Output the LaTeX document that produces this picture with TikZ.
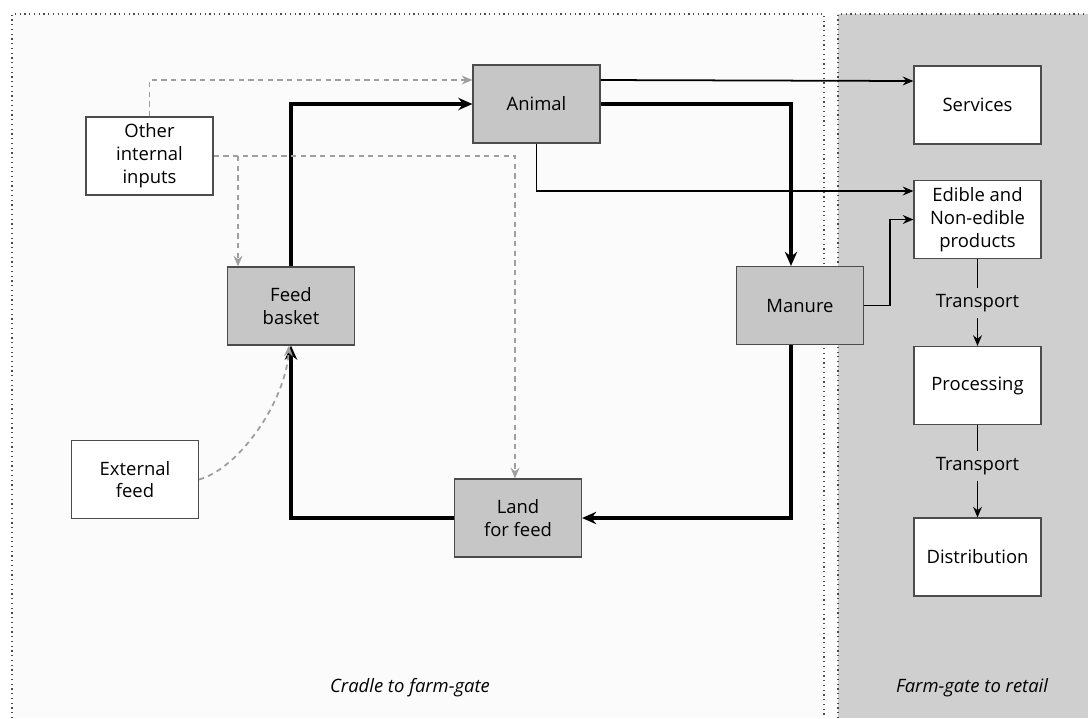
\documentclass[tikz,border=0pt]{standalone}
\usepackage{fontspec}
\setmainfont{Open Sans}
\usetikzlibrary{arrows.meta}

\begin{document}
\begin{tikzpicture}[x=0.02cm, y=-0.02cm,
        every node/.style={font=\fontsize{10.5}{13}\selectfont},
        farmbox/.style={draw=black!70, line width=0.7pt, fill=white, minimum width=2.54cm, minimum height=1.56cm, align=center, inner sep=1pt},
        stagebox/.style={farmbox, fill=gray!45},
        gatelabel/.style={font=\fontsize{10.5}{13}\selectfont\itshape},
        flow/.style={line width=2.2pt, -{Stealth[length=8pt, width=7pt]}},
        link/.style={line width=1pt, -{Stealth[length=6pt, width=5pt]}},
        supply/.style={gray!75, line width=1pt, dash pattern=on 3pt off 2.5pt, -{Stealth[length=6pt, width=5pt]}}]
    % the two stages
    \useasboundingbox (0,0) rectangle (1088,718);
    \fill[gray!3] (12,14) rectangle (824,718);
    \draw[black!70, dotted, line width=0.7pt] (12,718) -- (12,14) -- (824,14) -- (824,718);
    \fill[gray!38] (838,14) rectangle (1088,718);
    \draw[black!70, dotted, line width=0.7pt] (838,718) -- (838,14) -- (1088,14);

    % cradle to farm-gate
    \node[farmbox] (other) at (149.5,156) {Other\\internal\\inputs};
    \node[stagebox] (animal) at (536.5,104) {Animal};
    \node[stagebox] (basket) at (291,306) {Feed\\basket};
    \node[stagebox] (manure) at (800,305.5) {Manure};
    \node[farmbox] (external) at (135,479.5) {External\\feed};
    \node[stagebox] (land) at (518,518) {Land\\for feed};

    % farm-gate to retail
    \node[farmbox] (services) at (977.5,105) {Services};
    \node[farmbox] (edible) at (977.5,219.5) {Edible and\\Non-edible\\products};
    \node (transA) at (977.5,303) {Transport};
    \node[farmbox] (processing) at (977.5,385.5) {Processing};
    \node (transB) at (977.5,466) {Transport};
    \node[farmbox] (distribution) at (977.5,557) {Distribution};

    \node[gatelabel] (cradle) at (410,688) {Cradle to farm-gate};
    \node[gatelabel] (retail) at (972,688) {Farm-gate to retail};

    % main loop
    \draw[flow] (basket) |- (animal);
    \draw[flow] (animal.east) -| ([xshift=-0.18cm]manure.north);
    \draw[flow] ([xshift=-0.18cm]manure.south) |- (land.east);
    \draw[flow] (land.west) -| (basket.south);

    % products
    \draw[link] ([yshift=0.48cm]animal.east) -- ([yshift=0.48cm]services.west);
    \draw[link] (animal.south) |- ([yshift=0.57cm]edible.west);
    \draw[link] (manure.east) -- ++(26,0) |- (edible.west);
    \draw[line width=1pt] (edible) -- (transA);
    \draw[link] (transA) -- (processing);
    \draw[line width=1pt] (processing) -- (transB);
    \draw[link] (transB) -- (distribution);

    % inputs
    \coordinate (split) at (238,156);
    \draw[supply] (other.north) |- ([yshift=0.48cm]animal.west);
    \draw[supply] (other.east) -| ([xshift=-0.06cm]land.north);
    \draw[supply] (split) -- (split |- basket.north);
    \draw[supply] (external.east) .. controls (240,468) and (286,400) .. ([xshift=-0.04cm]basket.south);
\end{tikzpicture}
\end{document}
